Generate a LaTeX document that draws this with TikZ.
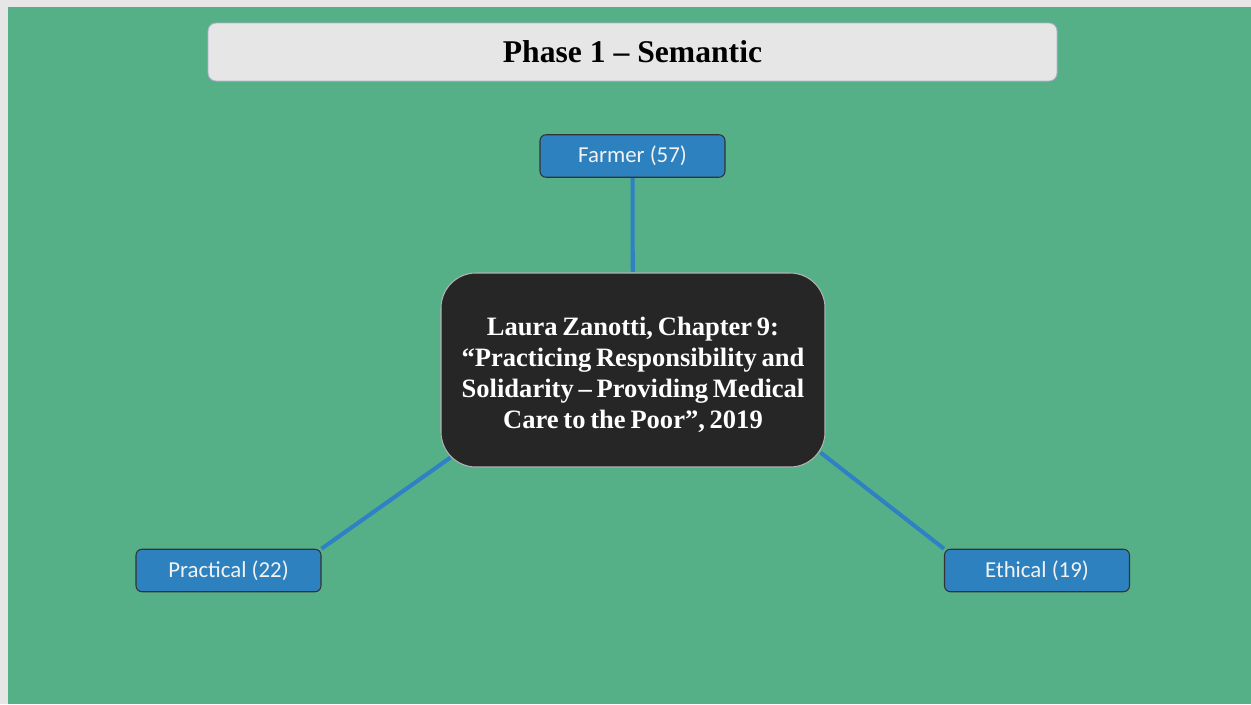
\documentclass[tikz,border=0pt]{standalone}
\usepackage{fontspec}
\setmainfont{Liberation Serif}
\newfontfamily\boxfont{Carlito}
\usepackage{tikz}
\usetikzlibrary{positioning,backgrounds,calc}
\usepackage{xcolor}

\definecolor{slidegreen}{HTML}{55B088}
\definecolor{framegray}{HTML}{E6E6E6}
\definecolor{leafblue}{HTML}{2E81BF}
\definecolor{linkblue}{HTML}{2F80C4}
\definecolor{coredark}{HTML}{262626}

\newcommand{\tightwords}{\spaceskip=0.18em\relax}

\begin{document}
\begin{tikzpicture}[
    titlebox/.style={draw=blue!20!gray!50, line width=0.5pt, fill=framegray, rounded corners=0.16cm,
        minimum width=16.98cm, minimum height=1.16cm, font=\fontsize{18}{21}\selectfont\bfseries},
    leafbox/.style={draw=black!80, line width=0.6pt, fill=leafblue, rounded corners=0.12cm,
        minimum width=3.7cm, minimum height=0.85cm, text=white!95!black, font=\boxfont\fontsize{13}{15}\selectfont},
    corebox/.style={draw=gray!60, line width=0.6pt, fill=coredark, rounded corners=0.7cm,
        minimum width=7.68cm, minimum height=3.88cm, text width=7.4cm, align=center, text=white,
        font=\fontsize{15.1}{17.6}\selectfont\bfseries},
    link/.style={draw=linkblue, line width=2.3pt}
]
    \useasboundingbox (0,0) rectangle (25.02,-14.08);

    \node[titlebox] (title) at (12.65,-1.04) {Phase 1 – Semantic};

    \node[corebox] (core) at (12.66,-7.4) {\tightwords\rule{0pt}{0.55cm}Laura Zanotti, Chapter 9:\\
        “Practicing Responsibility and\\
        Solidarity – Providing Medical\\
        Care to the Poor”, 2019};

    \foreach \name/\x/\y/\txt in {farmer/12.65/-3.12/Farmer (57), practical/4.57/-11.41/Practical (22), ethical/20.74/-11.41/Ethical (19)} {
        \node[leafbox] (\name) at (\x,\y) {\txt};
    }

    \begin{pgfonlayer}{background}
        \fill[framegray] (0,0) rectangle (25.02,-14.08);
        \fill[slidegreen] (0.16,-0.14) rectangle (25.02,-14.08);
        \draw[link] (farmer) -- (core);
        \draw[link] (practical.north east) -- ($(core.south west)+(0.2,0.2)$);
        \draw[link] (ethical.north west) -- ($(core.south east)+(-0.1,0.3)$);
    \end{pgfonlayer}
\end{tikzpicture}
\end{document}
